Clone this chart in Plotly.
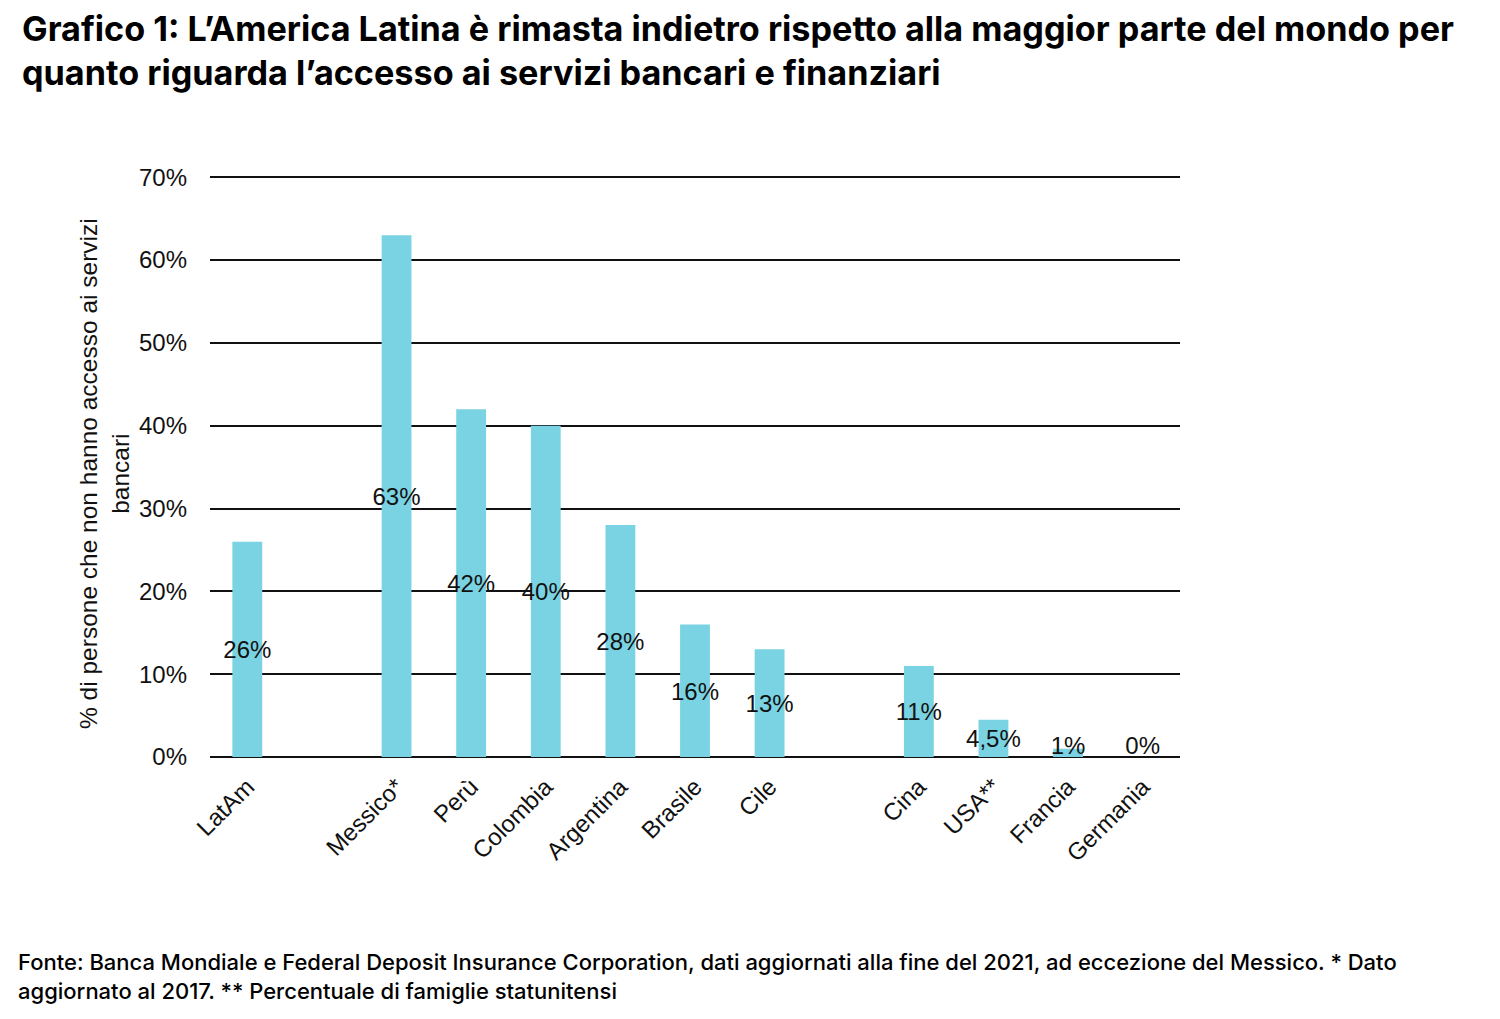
import plotly.graph_objects as go

# Slots (empty string = gap between groups)
slots = ["LatAm", "", "Messico*", "Perù", "Colombia", "Argentina", "Brasile", "Cile", "", "Cina", "USA**", "Francia", "Germania"]
categories = ["LatAm", "Messico*", "Perù", "Colombia", "Argentina", "Brasile", "Cile", "Cina", "USA**", "Francia", "Germania"]
values = [26, 63, 42, 40, 28, 16, 13, 11, 4.5, 1, 0]
value_labels = ["26%", "63%", "42%", "40%", "28%", "16%", "13%", "11%", "4,5%", "1%", "0%"]
y_ticks = [0, 10, 20, 30, 40, 50, 60, 70]
y_tick_labels = ["0%", "10%", "20%", "30%", "40%", "50%", "60%", "70%"]

positions = [i for i, s in enumerate(slots) if s]
label_y = [max(v / 2, 1.45) - 0.35 for v in values]

W, H = 1500, 1019
L, R, T, B = 210, 320, 176, 261
PH = H - T - B
YMAX = 70.15

def py(pix):  # pixel y from top -> paper y
    return (H - B - pix) / PH

def px(pix):
    return (pix - L) / (W - L - R)

BAR = "#7ad3e3"
AX = "Liberation Sans, Arial, sans-serif"
fig = go.Figure()
fig.add_trace(go.Bar(x=positions, y=values, width=0.4, marker=dict(color=BAR, line=dict(width=0)),
                     hoverinfo="skip"))
fig.add_trace(go.Scatter(x=positions, y=label_y, mode="text", text=value_labels,
                         textfont=dict(family=AX, size=24, color="#111"),
                         hoverinfo="skip"))

fig.update_layout(
    width=W, height=H,
    margin=dict(l=L, r=R, t=T, b=B),
    paper_bgcolor="white", plot_bgcolor="white",
    showlegend=False,
    xaxis=dict(range=[-0.5, len(slots) - 0.5], tickmode="array", tickvals=positions, ticktext=categories,
               tickangle=-45, showgrid=False, zeroline=False, showline=False, ticks="",
               ticklabelstandoff=9,
               tickfont=dict(family=AX, size=24, color="#111")),
    yaxis=dict(range=[-0.12, YMAX], tickmode="array", tickvals=y_ticks, ticktext=y_tick_labels,
               showgrid=True, gridcolor="#111", gridwidth=1.5, zeroline=True, zerolinecolor="#111",
               zerolinewidth=2, showline=False, ticks="",
               ticklabelstandoff=22,
               tickfont=dict(family=AX, size=24, color="#111")),
    annotations=[
        dict(text="% di persone che non hanno accesso ai servizi<br>bancari",
             xref="paper", yref="paper", x=px(104), y=py(474), xanchor="center", yanchor="middle",
             textangle=-90, showarrow=False, align="center",
             font=dict(family=AX, size=24.5, color="#111")),
        dict(text="Grafico 1: L’America Latina è rimasta indietro rispetto alla maggior parte del mondo per<br>quanto riguarda l’accesso ai servizi bancari e finanziari",
             xref="paper", yref="paper", x=px(20), y=py(6), xanchor="left", yanchor="top", align="left",
             showarrow=False, font=dict(family="Inter, sans-serif", size=34.2, color="#000", weight=700)),
        dict(text="Fonte: Banca Mondiale e Federal Deposit Insurance Corporation, dati aggiornati alla fine del 2021, ad eccezione del Messico. * Dato<br>aggiornato al 2017. ** Percentuale di famiglie statunitensi",
             xref="paper", yref="paper", x=px(16), y=py(947), xanchor="left", yanchor="top", align="left",
             showarrow=False, font=dict(family="Inter, sans-serif", size=22, color="#000", weight=500)),
    ],
)
fig.write_html("out.html")
